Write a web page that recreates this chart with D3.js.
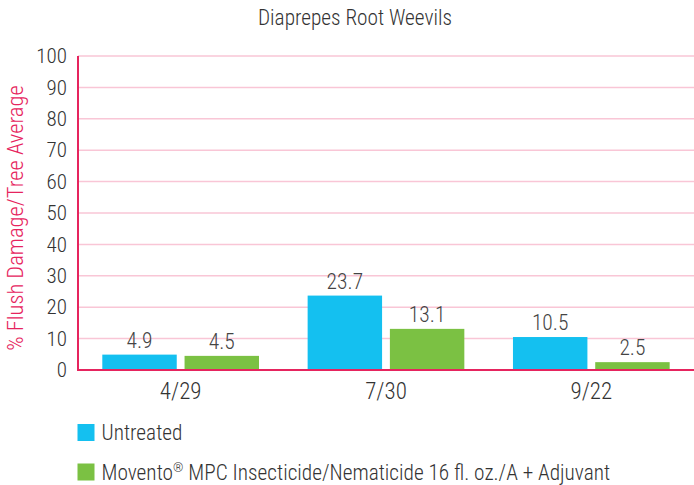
<!DOCTYPE html>
<html>
<head>
<meta charset="utf-8">
<script src="https://cdn.jsdelivr.net/npm/d3@7"></script>
<style>
  html, body { margin: 0; padding: 0; background: #fff; }
  svg { display: block; }
  text { font-family: "Roboto Condensed", "Liberation Sans Narrow", "Liberation Sans", Arial, sans-serif; font-weight: 300; }
</style>
</head>
<body>
<svg id="chart" width="694" height="485"></svg>
<script>
const title = "Diaprepes Root Weevils";
const yAxisLabel = "% Flush Damage/Tree Average";
const categories = ["4/29", "7/30", "9/22"];
const seriesNames = ["Untreated", "Movento® MPC Insecticide/Nematicide 16 fl. oz./A + Adjuvant"];
const untreated = [4.9, 23.7, 10.5];
const movento = [4.5, 13.1, 2.5];
const yTicks = [0, 10, 20, 30, 40, 50, 60, 70, 80, 90, 100];
const seriesColors = ["#14c0f0", "#7bc143"];

const seriesValues = [untreated, movento];
const svg = d3.select("#chart");
const FONT = '"Roboto Condensed", "Liberation Sans Narrow", "Liberation Sans", sans-serif';

const plotLeft = 78, plotRight = 694, plotTop = 56, plotBottom = 370;

const y = d3.scaleLinear().domain([0, 100]).range([plotBottom, plotTop]);
const x0 = d3.scaleBand().domain(categories).range([plotLeft, plotRight]).padding(0);
const x1 = d3.scaleBand().domain([0, 1]).range([24.3, 181]).paddingInner(0.095);

// gridlines
svg.append("g")
  .selectAll("line")
  .data(yTicks.filter(t => t > 0))
  .join("line")
  .attr("x1", plotLeft).attr("x2", plotRight)
  .attr("y1", d => y(d)).attr("y2", d => y(d))
  .attr("stroke", "#f9c6d6").attr("stroke-width", 1.5);

// y axis tick labels
const yAxis = d3.axisLeft(y).tickValues(yTicks).tickSize(0).tickPadding(11);
const yg = svg.append("g").attr("transform", `translate(${plotLeft},0)`).call(yAxis);
yg.select(".domain").remove();
yg.selectAll("text").attr("font-size", 21).attr("fill", "#333")
  .style("font-family", FONT).style("font-weight", 300);

// bars
const groups = svg.append("g").selectAll("g")
  .data(categories)
  .join("g")
  .attr("transform", d => `translate(${x0(d)},0)`);

groups.selectAll("rect")
  .data((d, i) => seriesValues.map((s, k) => ({ k, v: s[i] })))
  .join("rect")
  .attr("x", d => x1(d.k))
  .attr("width", x1.bandwidth())
  .attr("y", d => y(d.v))
  .attr("height", d => y(0) - y(d.v))
  .attr("fill", d => seriesColors[d.k]);

groups.selectAll("text.val")
  .data((d, i) => seriesValues.map((s, k) => ({ k, v: s[i] })))
  .join("text")
  .attr("class", "val")
  .attr("x", d => x1(d.k) + x1.bandwidth() / 2)
  .attr("y", d => y(d.v) - 7)
  .attr("text-anchor", "middle")
  .attr("font-size", 21.5)
  .attr("fill", "#444")
  .text(d => d.v.toFixed(1));

// axis lines
svg.append("line")
  .attr("x1", plotLeft).attr("x2", plotLeft)
  .attr("y1", plotTop).attr("y2", plotBottom + 1)
  .attr("stroke", "#e6245e").attr("stroke-width", 2);
svg.append("line")
  .attr("x1", plotLeft - 1).attr("x2", plotRight)
  .attr("y1", plotBottom).attr("y2", plotBottom)
  .attr("stroke", "#e6245e").attr("stroke-width", 2);

// x axis labels
const xAxis = d3.axisBottom(x0).tickSize(0).tickPadding(13);
const xg = svg.append("g").attr("transform", `translate(0,${plotBottom})`).call(xAxis);
xg.select(".domain").remove();
xg.selectAll("text").attr("font-size", 23).attr("fill", "#333")
  .style("font-family", FONT).style("font-weight", 300);

// title
svg.append("text")
  .attr("x", 355).attr("y", 25)
  .attr("text-anchor", "middle")
  .attr("font-size", 21.3)
  .attr("fill", "#333")
  .text(title);

// y axis label
svg.append("text")
  .attr("transform", "translate(23,218) rotate(-90)")
  .attr("text-anchor", "middle")
  .attr("font-size", 22.5)
  .attr("fill", "#e6245e")
  .text(yAxisLabel);

// legend
const legend = svg.append("g").selectAll("g")
  .data(seriesNames)
  .join("g")
  .attr("transform", (d, i) => `translate(77.5,${424 + i * 39.5})`);
legend.append("rect")
  .attr("width", 17).attr("height", 17)
  .attr("fill", (d, i) => seriesColors[i]);
const lt = legend.append("text")
  .attr("x", 24).attr("y", 16)
  .attr("font-size", 21.3)
  .attr("fill", "#333");
lt.each(function(d) {
  const t = d3.select(this);
  const parts = d.split("®");
  t.append("tspan").text(parts[0]);
  if (parts.length > 1) {
    t.append("tspan").attr("font-size", 13).attr("dy", -8).text("®");
    t.append("tspan").attr("dy", 8).text(parts[1]);
  }
});
</script>
</body>
</html>
